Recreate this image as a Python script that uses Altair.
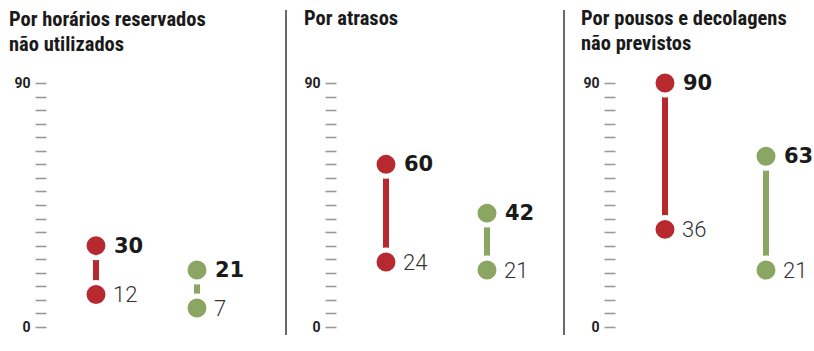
import altair as alt
import pandas as pd

titles = [["Por horários reservados", "não utilizados"], ["Por atrasos", " "], ["Por pousos e decolagens", "não previstos"]]
series = ["vermelho", "verde"]
high_values = [[30, 21], [60, 42], [90, 63]]
low_values = [[12, 7], [24, 21], [36, 21]]
tick_values = list(range(0, 95, 5))

RED = "#b8282f"
GREEN = "#8aa662"
widths = [230, 219, 190]
title_dx = [-37, -32, -34]
sep_x = [0, -50, -51]
SPACING = 60
H = 244


def panel(i):
    df = pd.DataFrame({
        "serie": series,
        "alto": high_values[i],
        "baixo": low_values[i],
    })
    base = alt.Chart(df)
    x = alt.X("serie:N", axis=None,
              scale=alt.Scale(domain=series, range=[-0.5, 201.5]))
    color = alt.Color("serie:N", legend=None,
                      scale=alt.Scale(domain=series, range=[RED, GREEN]))
    yaxis = alt.Axis(values=tick_values, title=None, domain=False, grid=False,
                     tickSize=11, tickColor="#9a9a9a", tickWidth=1.6,
                     labelExpr="datum.value == 0 || datum.value == 90 ? datum.label : ''",
                     labelFont="Roboto", labelFontWeight="bold", labelFontSize=14,
                     labelColor="#222222", labelPadding=5)
    yscale = alt.Scale(domain=[0, 90], nice=False)
    y_hi = alt.Y("alto:Q", scale=yscale, axis=yaxis)
    y_lo = alt.Y("baixo:Q", scale=yscale, axis=yaxis)
    rule = base.mark_rule(strokeWidth=6).encode(
        x=x, y=y_lo, y2="alto:Q", color=color)
    dots_hi = base.mark_point(filled=True, size=573, opacity=1, stroke="white",
                              strokeWidth=5, strokeOpacity=1).encode(
        x=x, y=y_hi, fill=color)
    dots_lo = base.mark_point(filled=True, size=573, opacity=1, stroke="white",
                              strokeWidth=5, strokeOpacity=1).encode(
        x=x, y=y_lo, fill=color)
    txt_hi = base.mark_text(align="left", baseline="middle", dx=18, dy=1,
                            font="DejaVu Sans", fontWeight="bold", fontSize=21,
                            color="#1a1a1a").encode(
        x=x, y=y_hi, text="alto:Q")
    txt_lo = base.mark_text(align="left", baseline="middle", dx=17, dy=1,
                            font="Roboto", fontWeight=300, fontSize=22,
                            color="#333333").encode(
        x=x, y=y_lo, text="baixo:Q")
    sep = alt.Chart(pd.DataFrame({"s": [0]})).mark_rule(
        color="#1a1a1a", strokeWidth=1.3, opacity=0 if i == 0 else 1).encode(
        x=alt.value(sep_x[i]), y=alt.value(-73), y2=alt.value(252))
    layers = [sep, rule, dots_hi, dots_lo, txt_hi, txt_lo]
    return alt.layer(*layers).properties(
        width=widths[i], height=H,
        title=alt.TitleParams(text=titles[i], anchor="start", frame="group",
                              dx=title_dx[i],
                              font="Liberation Sans Narrow, Roboto Condensed, Roboto",
                              fontWeight="bold", fontSize=20.5, lineHeight=25,
                              color="#1a1a1a", offset=-45))


chart = alt.hconcat(*[panel(i) for i in range(3)], spacing=SPACING, bounds="flush").properties(
    padding={"left": 9, "top": 8, "right": 0, "bottom": 0},
    background="white"
).configure_view(strokeWidth=0, stroke="transparent")

chart.save("out.html", embed_options={"renderer": "svg", "actions": False})
